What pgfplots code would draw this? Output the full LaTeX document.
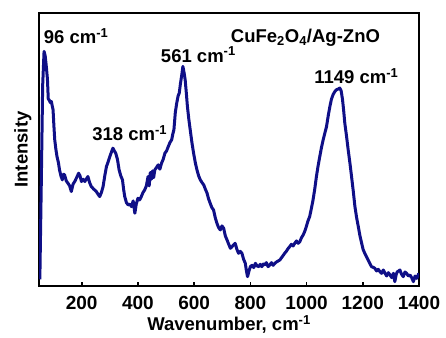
\documentclass[border=0pt]{standalone}
\usepackage{pgfplots}
\pgfplotsset{compat=1.18}
\usepackage{fontspec}
\setmainfont{Liberation Sans}
\definecolor{navy}{RGB}{15,15,135}
\begin{document}
\begin{tikzpicture}
\begin{axis}[
  name=ax,
  scale only axis,
  width=380pt, height=273pt,
  xmin=48, xmax=1400, ymin=0, ymax=818,
  xtick={200,400,...,1400},
  ytick=\empty,
  tick align=inside,
  xtick pos=bottom,
  major tick length=4pt,
  axis line style={line width=1.6pt},
  every tick/.style={line width=1.6pt, black},
  /pgf/number format/assume math mode=true,
  /pgf/number format/1000 sep={},
  ticklabel style={font=\fontsize{19}{19}\selectfont\bfseries},
  xticklabel style={anchor=north, inner sep=0pt, yshift=-10pt},
  xlabel={\textbf{Wavenumber, cm\textsuperscript{-1}}},
  ylabel={\textbf{Intensity}},
  label style={font=\fontsize{18.5}{18.5}\selectfont\bfseries},
  xlabel style={at={(axis description cs:0.5,0)}, anchor=north, inner sep=0pt, yshift=-29pt},
  ylabel style={yshift=4pt},
  clip=true,
]
\addplot[color=navy, line width=3pt, line join=round] coordinates {
(51,20) (56,300) (61,600) (66,703) (70,690) (74,658) (78,620) (81,560) (84,558) (88,550) (92,553) (95,540) (98,528)
(101,480) (104,438) (108,410) (112,388) (117,370) (121,348) (126,330) (131,318) (135,335) (139,333) (145,315) (151,308)
(157,300) (163,283) (169,305) (175,313) (182,325) (189,338) (194,330) (199,313) (205,320) (211,313) (216,320) (222,328)
(228,310) (234,298) (243,290) (252,283) (258,275) (264,268) (270,280) (276,298) (282,330) (288,358) (294,372) (300,388)
(306,402) (311,413) (316,405) (321,398) (327,380) (333,348) (339,330) (345,318) (349,290) (353,268) (359,250) (365,243)
(371,245) (377,238) (383,255) (389,218) (394,245) (400,263) (406,258) (412,268) (418,280) (424,288) (430,300) (436,328)
(440,300) (444,340) (448,320) (452,345) (456,325) (460,348) (466,355) (472,363) (478,350) (484,368) (490,380) (496,398)
(502,405) (508,418) (514,430) (520,438) (524,455) (528,468) (533,520) (538,548) (543,570) (547,578) (551,605) (556,633)
(560,658) (564,640) (568,618) (572,580) (576,538) (581,500) (586,468) (592,430) (598,398) (604,370) (610,348) (616,330)
(622,318) (628,310) (634,303) (640,290) (646,278) (651,262) (657,248) (663,235) (669,228) (675,205) (681,188) (687,175)
(693,168) (699,180) (705,173) (711,150) (717,138) (723,125) (729,113) (737,120) (746,128) (752,110) (758,98) (764,104)
(770,98) (776,80) (782,68) (786,45) (790,28) (795,45) (800,58) (806,62) (812,55) (818,68) (824,60) (830,58) (835,65)
(841,58) (846,66) (851,63) (857,70) (863,58) (869,63) (875,70) (881,62) (887,68) (893,72) (899,75) (905,78) (911,85)
(917,92) (922,98) (928,104) (934,112) (940,118) (946,125) (952,120) (958,128) (964,135) (970,128) (976,133) (982,145)
(988,153) (994,165) (999,178) (1005,195) (1011,208) (1017,232) (1023,258) (1029,290) (1035,328) (1041,360) (1047,388)
(1053,415) (1059,438) (1065,458) (1071,478) (1077,510) (1083,538) (1088,558) (1094,573) (1100,582) (1106,588) (1112,590)
(1118,593) (1123,585) (1128,558) (1132,525) (1136,488) (1142,450) (1148,408) (1154,370) (1160,328) (1166,285) (1172,238)
(1178,205) (1184,178) (1190,150) (1196,128) (1201,110) (1207,98) (1213,88) (1219,78) (1225,68) (1231,58) (1237,56)
(1243,53) (1249,45) (1255,50) (1261,43) (1267,38) (1273,48) (1279,38) (1285,30) (1291,40) (1297,33) (1303,25)
(1309,38) (1314,13) (1319,35) (1323,43) (1328,45) (1332,48) (1338,35) (1344,28) (1350,42) (1356,38) (1362,30)
(1368,33) (1374,25) (1380,13) (1386,30) (1392,23) (1396,30) (1399,38)
};
\node[font=\fontsize{18.5}{18.5}\selectfont\bfseries] at (axis cs:180,748) {96 cm\textsuperscript{-1}};
\node[font=\fontsize{18.5}{18.5}\selectfont\bfseries] at (axis cs:371,458) {318 cm\textsuperscript{-1}};
\node[font=\fontsize{18.5}{18.5}\selectfont\bfseries] at (axis cs:615,693) {561 cm\textsuperscript{-1}};
\node[font=\fontsize{18.5}{18.5}\selectfont\bfseries] at (axis cs:1177,628) {1149 cm\textsuperscript{-1}};
\node[font=\fontsize{18.5}{18.5}\selectfont\bfseries] at (axis cs:996,743) {CuFe\textsubscript{2}O\textsubscript{4}/Ag-ZnO};
\end{axis}
\path ([xshift=-39pt,yshift=-51pt]ax.south west) ([xshift=27pt,yshift=13pt]ax.north east);
\end{tikzpicture}
\end{document}
